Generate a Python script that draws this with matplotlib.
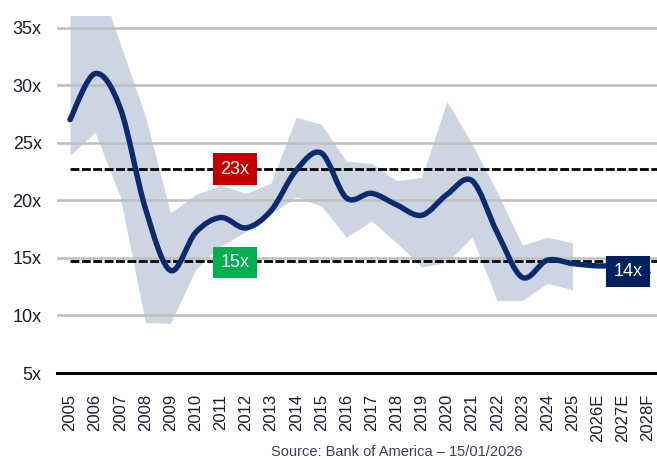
import matplotlib
matplotlib.use("Agg")
import matplotlib.pyplot as plt
from matplotlib.path import Path
from matplotlib.patches import PathPatch
import numpy as np

years = ["2005", "2006", "2007", "2008", "2009", "2010", "2011", "2012",
         "2013", "2014", "2015", "2016", "2017", "2018", "2019", "2020",
         "2021", "2022", "2023", "2024", "2025", "2026E", "2027E", "2028F"]

# forward P/E (smoothed line in the reference)
pe = [27.0, 31.0, 28.0, 19.3, 13.9, 17.2, 18.5, 17.6, 19.1, 22.6, 24.1, 20.2,
      20.6, 19.6, 18.7, 20.5, 21.7, 17.2, 13.3, 14.8, 14.5, 14.3, 14.3, 13.7]

# high / low range, 2005-2025
band_hi = [37.5, 40.0, 33.6, 27.3, 18.9, 20.5, 21.3, 20.6, 21.5, 27.2, 26.6,
           23.4, 23.2, 21.7, 22.0, 28.6, 24.9, 20.7, 16.1, 16.8, 16.3]
band_lo = [23.9, 25.9, 20.3, 9.4, 9.3, 14.0, 16.0, 17.3, 18.8, 20.3, 19.5,
           16.8, 18.2, 16.3, 14.2, 14.6, 16.8, 11.3, 11.3, 12.8, 12.2]

avg_hi = 22.7
avg_lo = 14.7
yticks = [5, 10, 15, 20, 25, 30, 35]

NAVY = "#0b2a6f"
BAND = "#cdd5e3"
plt.rcParams["font.family"] = ["Liberation Sans", "DejaVu Sans"]

fig = plt.figure(figsize=(6.57, 4.59), dpi=100)
ax = fig.add_axes([57 / 657, 86 / 459, 600 / 657, 357 / 459])
ax.set_xlim(-0.517, 23.36)
ax.set_ylim(5, 36)

x = np.arange(len(years))
xb = np.arange(len(band_hi))

ax.fill_between(xb, band_lo, band_hi, color=BAND, lw=0, zorder=1)

for v in yticks[1:]:
    ax.axhline(v, color="#bfbfbf", lw=1.8, zorder=2)
ax.axhline(5, color="black", lw=2.2, zorder=2, clip_on=False)

ax.hlines([avg_hi, avg_lo], 0, 23.36, colors="black", lw=2.0,
          linestyles=(0, (3.2, 0.9)), zorder=3)

# smooth line: Catmull-Rom segments as cubic Bezier
pts = np.column_stack([x, pe])
verts = [pts[0]]
codes = [Path.MOVETO]
n = len(pts)
for i in range(n - 1):
    p0 = pts[max(i - 1, 0)]
    p1 = pts[i]
    p2 = pts[i + 1]
    p3 = pts[min(i + 2, n - 1)]
    verts += [p1 + (p2 - p0) / 6, p2 - (p3 - p1) / 6, p2]
    codes += [Path.CURVE4] * 3
ax.add_patch(PathPatch(Path(verts, codes), fc="none", ec=NAVY, lw=3.9,
                       capstyle="round", joinstyle="round", zorder=4))

box = dict(boxstyle="square,pad=0.4", ec="none")
ax.text(6.57, avg_hi, "23x", color="white", fontsize=13, ha="center",
        va="center", bbox=dict(box, fc="#c00000"), zorder=5)
ax.text(6.57, avg_lo - 0.1, "15x", color="white", fontsize=13, ha="center",
        va="center", bbox=dict(box, fc="#00b050"), zorder=5)
ax.text(22.2, 13.8, "14x", color="white", fontsize=13, ha="center",
        va="center", bbox=dict(box, fc="#002060"), zorder=5)

ax.set_yticks(yticks)
ax.set_yticklabels([f"{v}x" for v in yticks], fontsize=13, color="#1c1c30")
ax.set_xticks(x)
ax.set_xticklabels(years, rotation=90, fontsize=12, color="#1c1c30")
ax.tick_params(axis="both", length=0)
ax.tick_params(axis="y", pad=11)
ax.tick_params(axis="x", pad=15)
for s in ax.spines.values():
    s.set_visible(False)

fig.text(397 / 657, 1 - 452 / 459, "Source: Bank of America \u2013 15/01/2026",
         fontsize=10.5, color="#3a3f5a", ha="center", va="center")

fig.savefig("out.png", dpi=100)
